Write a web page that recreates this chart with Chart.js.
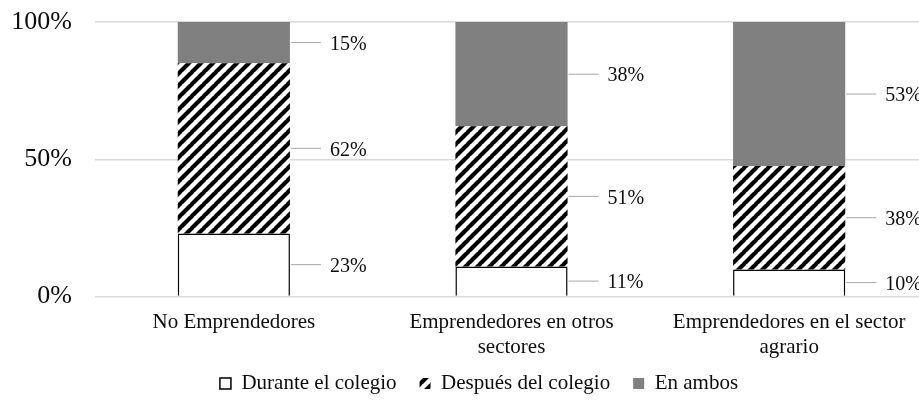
<!DOCTYPE html>
<html>
<head>
<meta charset="utf-8">
<script src="https://cdn.jsdelivr.net/npm/chart.js@4/dist/chart.umd.min.js"></script>
<style>
  html, body { margin: 0; padding: 0; background: #fff; overflow: hidden; }
  #wrap { width: 919px; height: 407px; overflow: hidden; }
  #box { width: 958px; height: 407px; }
</style>
</head>
<body>
<div id="wrap"><div id="box"><canvas id="myChart"></canvas></div></div>
<script>
const categories = [
    ['No Emprendedores'],
    ['Emprendedores en otros', 'sectores'],
    ['Emprendedores en el sector', 'agrario']
];
const seriesNames = ['Durante el colegio', 'Después del colegio', 'En ambos'];
const durante = [23, 11, 10];
const despues = [62, 51, 38];
const ambos = [15, 38, 53];
const yTicks = [0, 50, 100];

const font = 'Liberation Serif';

// diagonal stripe fill for "Después del colegio"
function hatch() {
    const s = 12;
    const c = document.createElement('canvas');
    c.width = s; c.height = s;
    const g = c.getContext('2d');
    g.fillStyle = '#fff';
    g.fillRect(0, 0, s, s);
    g.strokeStyle = '#000';
    g.lineWidth = 4.2;
    g.beginPath();
    for (let k = -1; k <= 1; k++) {
        g.moveTo(k * s - 1, s + 1);
        g.lineTo(k * s + s + 1, -1);
    }
    g.stroke();
    return g.createPattern(c, 'repeat');
}

// 100% stacked: share of each bar
let totals = durante.map((v, i) => v + despues[i] + ambos[i]);
let share = arr => arr.map((v, i) => v / totals[i] * 100);

const rawValues = [durante, despues, ambos];

const leaderLabels = {
    id: 'leaderLabels',
    afterDatasetsDraw(chart) {
        const ctx = chart.ctx;
        ctx.save();
        ctx.font = '20px "' + font + '"';
        ctx.textBaseline = 'middle';
        ctx.textAlign = 'left';
        chart.data.datasets.forEach((ds, di) => {
            const meta = chart.getDatasetMeta(di);
            meta.data.forEach((el, i) => {
                const p = el.getProps(['x', 'y', 'base', 'width'], true);
                const yc = (p.y + p.base) / 2;
                const right = p.x + p.width / 2;
                ctx.strokeStyle = '#a6a6a6';
                ctx.lineWidth = 1;
                ctx.beginPath();
                ctx.moveTo(right + 1, yc);
                ctx.lineTo(right + 31, yc);
                ctx.stroke();
                ctx.fillStyle = '#0d0d0d';
                ctx.fillText(rawValues[di][i] + '%', right + 40, yc + 2);
            });
        });
        ctx.restore();
    }
};

// pull the legend up, closer to the category labels
const legendNudge = {
    id: 'legendNudge',
    afterLayout(chart) {
        const lg = chart.legend;
        lg.top -= 23;
        lg.bottom -= 23;
    }
};

const ctx = document.getElementById('myChart').getContext('2d');
const config = {
    type: 'bar',
    data: {
        labels: categories,
        datasets: [
            {
                label: seriesNames[0],
                data: share(durante),
                backgroundColor: '#ffffff',
                borderColor: '#000000',
                borderWidth: 1.5,
            },
            {
                label: seriesNames[1],
                data: share(despues),
                backgroundColor: hatch(),
                borderWidth: 0,
            },
            {
                label: seriesNames[2],
                data: share(ambos),
                backgroundColor: '#808080',
                borderWidth: 0,
            }
        ]
    },
    options: {
        responsive: true,
        maintainAspectRatio: false,
        animation: false,
        categoryPercentage: 1,
        barPercentage: 0.404,
        layout: {
            padding: { left: 0, right: 0, top: 22, bottom: -20 }
        },
        scales: {
            x: {
                stacked: true,
                grid: { display: false, drawTicks: false },
                border: { display: false },
                ticks: {
                    color: '#0d0d0d',
                    padding: 13,
                    maxRotation: 0,
                    font: { family: font, size: 21, lineHeight: 1.2 }
                }
            },
            y: {
                stacked: true,
                min: 0,
                max: 100,
                afterBuildTicks: axis => { axis.ticks = yTicks.map(v => ({ value: v })); },
                afterFit: axis => {
                    axis.width = 95;
                    axis.paddingTop = 0;
                    axis.paddingBottom = 0;
                },
                grid: { color: '#d9d9d9', lineWidth: 1.5, drawTicks: false },
                border: { display: false },
                ticks: {
                    color: '#0d0d0d',
                    padding: 23,
                    font: { family: font, size: 26 },
                    callback: v => v + '%'
                }
            },
            // empty right-hand strip so the plot ends where the original does
            yRight: {
                position: 'right',
                display: true,
                grid: { display: false, drawTicks: false },
                border: { display: false },
                ticks: { display: false },
                afterFit: axis => {
                    axis.width = 30;
                    axis.paddingTop = 0;
                    axis.paddingBottom = 0;
                }
            }
        },
        plugins: {
            tooltip: { enabled: false },
            legend: {
                position: 'bottom',
                labels: {
                    color: '#0d0d0d',
                    boxWidth: 11,
                    boxHeight: 11,
                    padding: 23,
                    font: { family: font, size: 21 }
                }
            }
        }
    },
    plugins: [leaderLabels, legendNudge]
};

const barChart = new Chart(ctx, config);
</script>
</body>
</html>
